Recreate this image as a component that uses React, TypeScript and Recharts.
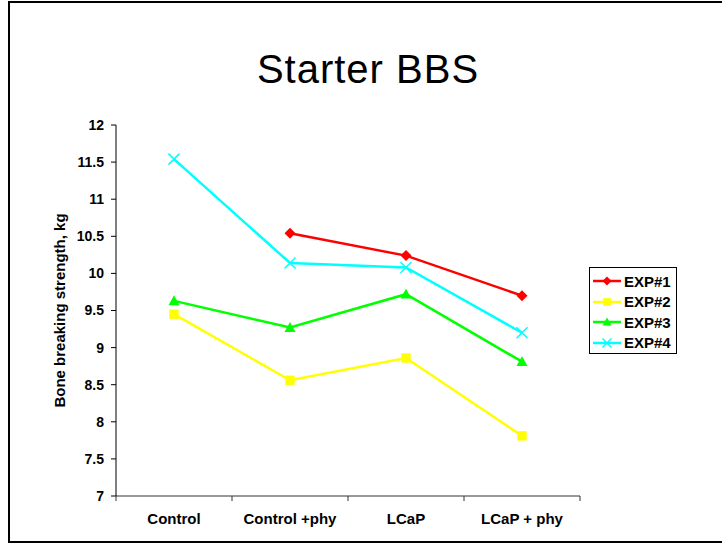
import React from 'react';
import { LineChart, Line, XAxis, YAxis } from 'recharts';

const categories = ['Control', 'Control +phy', 'LCaP', 'LCaP + phy'];
const exp1 = [null, 10.54, 10.24, 9.7];
const exp2 = [9.45, 8.56, 8.86, 7.81];
const exp3 = [9.63, 9.27, 9.72, 8.81];
const exp4 = [11.54, 10.14, 10.08, 9.2];
const yTicks = [7, 7.5, 8, 8.5, 9, 9.5, 10, 10.5, 11, 11.5, 12];

const data = categories.map((name, i) => ({
  name,
  exp1: exp1[i],
  exp2: exp2[i],
  exp3: exp3[i],
  exp4: exp4[i],
}));

const FONT = '"Liberation Sans", Arial, sans-serif';
const W = 722;
const H = 544;
const margin = { top: 125, right: 142, bottom: 18, left: 0 };
const yAxisWidth = 116;
const halfBand = (W - margin.right - margin.left - yAxisWidth) / categories.length / 2;

const RED = '#FF0000';
const YELLOW = '#FFFF00';
const GREEN = '#00FF00';
const CYAN = '#00FFFF';

type MarkKind = 'diamond' | 'square' | 'triangle' | 'cross';

function mark(kind: MarkKind, cx: number, cy: number, color: string, s: number) {
  if (kind === 'diamond') {
    return <path d={`M${cx},${cy - s}L${cx + s},${cy}L${cx},${cy + s}L${cx - s},${cy}Z`} fill={color} />;
  }
  if (kind === 'square') {
    return <rect x={cx - s * 0.85} y={cy - s * 0.85} width={s * 1.7} height={s * 1.7} fill={color} />;
  }
  if (kind === 'triangle') {
    return <path d={`M${cx},${cy - s}L${cx + s},${cy + s * 0.8}L${cx - s},${cy + s * 0.8}Z`} fill={color} />;
  }
  return (
    <path
      d={`M${cx - s},${cy - s}L${cx + s},${cy + s}M${cx - s},${cy + s}L${cx + s},${cy - s}`}
      stroke={color}
      strokeWidth={1.5}
      fill="none"
    />
  );
}

const dotOf = (kind: MarkKind, color: string) => (props: any) => {
  const { cx, cy, index } = props;
  if (cx == null || cy == null || props.value == null) return <g key={`${kind}-${index}`} />;
  return <g key={`${kind}-${index}`}>{mark(kind, cx, cy, color, 5.5)}</g>;
};

const series = [
  { key: 'exp1', name: 'EXP#1', color: RED, kind: 'diamond' as MarkKind },
  { key: 'exp2', name: 'EXP#2', color: YELLOW, kind: 'square' as MarkKind },
  { key: 'exp3', name: 'EXP#3', color: GREEN, kind: 'triangle' as MarkKind },
  { key: 'exp4', name: 'EXP#4', color: CYAN, kind: 'cross' as MarkKind },
];

function CategoryTick(props: any) {
  const { x, y, payload, index } = props;
  const last = index === categories.length - 1;
  return (
    <g>
      <line x1={x - halfBand} y1={y} x2={x - halfBand} y2={y + 5} stroke="#333" />
      {last && <line x1={x + halfBand} y1={y} x2={x + halfBand} y2={y + 5} stroke="#333" />}
      <text
        x={x}
        y={y + 22}
        textAnchor="middle"
        dominantBaseline="central"
        fontFamily={FONT}
        fontWeight="bold"
        fontSize={15}
        fill="#000"
      >
        {payload.value}
      </text>
    </g>
  );
}

function LegendBox() {
  return (
    <div
      style={{
        position: 'absolute',
        left: 589,
        top: 267,
        boxSizing: 'border-box',
        width: 88,
        height: 87,
        border: '1px solid #000',
        paddingTop: 3,
        background: '#fff',
      }}
    >
      {series.map((s) => (
        <div key={s.key} style={{ display: 'flex', alignItems: 'center', height: 20.5 }}>
          <svg width={34} height={14} style={{ display: 'block' }}>
            <line x1={3} y1={7} x2={31} y2={7} stroke={s.color} strokeWidth={2.5} />
            {mark(s.kind, 17, 7, s.color, 4.5)}
          </svg>
          <span style={{ fontFamily: FONT, fontWeight: 'bold', fontSize: 15, color: '#000' }}>{s.name}</span>
        </div>
      ))}
    </div>
  );
}

export default function App() {
  return (
    <div style={{ position: 'absolute', left: 0, top: 0, width: W, height: H, background: '#fff' }}>
      <div
        style={{
          position: 'absolute',
          left: 8,
          top: 1,
          width: W - 8,
          height: 542,
          boxSizing: 'border-box',
          borderTop: '2px solid #000',
          borderLeft: '2px solid #000',
          borderBottom: '2px solid #000',
        }}
      />
      <div
        style={{
          position: 'absolute',
          left: 7,
          top: 51,
          width: W,
          textAlign: 'center',
          fontFamily: FONT,
          fontSize: 40,
          lineHeight: '37px',
          letterSpacing: 1,
          color: '#000',
        }}
      >
        Starter BBS
      </div>
      <div style={{ position: 'absolute', left: 0, top: 0 }}>
        <LineChart width={W} height={H} data={data} margin={margin}>
          <XAxis
            dataKey="name"
            height={30}
            padding={{ left: halfBand, right: halfBand }}
            tickLine={false}
            tickSize={0}
            tickMargin={0}
            interval={0}
            stroke="#333"
            tick={<CategoryTick />}
          />
          <YAxis
            width={yAxisWidth}
            domain={[7, 12]}
            ticks={yTicks}
            interval={0}
            stroke="#000"
            tickSize={5}
            tickMargin={7}
            tick={{ fontFamily: FONT, fontWeight: 'bold', fontSize: 14, fill: '#000' }}
            label={{
              content: (p: any) => {
                const vb = p.viewBox;
                const cx = vb.x + 59;
                const cy = vb.y + vb.height / 2;
                return (
                  <text
                    x={cx}
                    y={cy}
                    transform={`rotate(-90 ${cx} ${cy})`}
                    textAnchor="middle"
                    dominantBaseline="central"
                    fontFamily={FONT}
                    fontWeight="bold"
                    fontSize={15}
                    fill="#000"
                  >
                    Bone breaking strength, kg
                  </text>
                );
              },
            }}
          />
          {series.map((s) => (
            <Line
              key={s.key}
              dataKey={s.key}
              name={s.name}
              type="linear"
              stroke={s.color}
              strokeWidth={2.5}
              dot={dotOf(s.kind, s.color)}
              activeDot={false}
              isAnimationActive={false}
            />
          ))}
        </LineChart>
      </div>
      <LegendBox />
    </div>
  );
}
